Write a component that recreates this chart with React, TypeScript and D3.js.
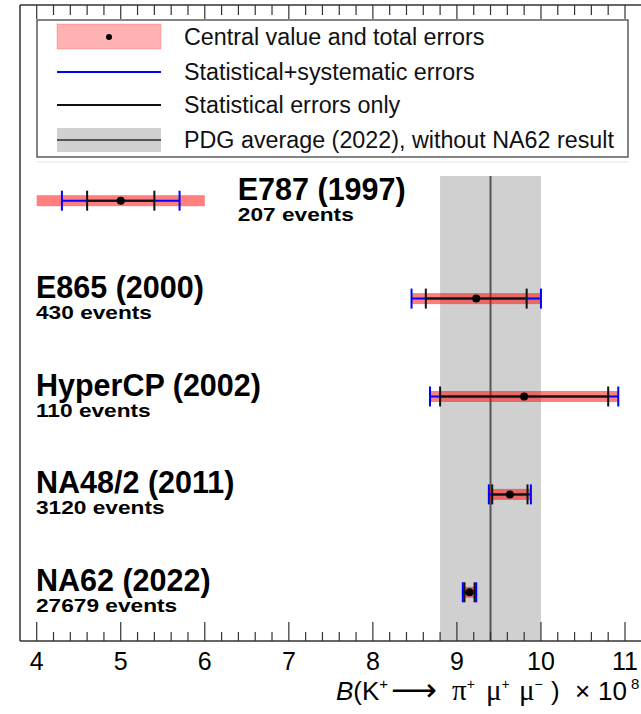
import React from "react";
import * as d3 from "d3";

// 測定値 (x 10^-8)
const experiments = ["E787 (1997)", "E865 (2000)", "HyperCP (2002)", "NA48/2 (2011)", "NA62 (2022)"];
const eventCounts = ["207 events", "430 events", "110 events", "3120 events", "27679 events"];
const centralValues = [5.0, 9.23, 9.8, 9.63, 9.15];
const statErrors = [0.4, 0.6, 1.0, 0.21, 0.06];
const statSystErrors = [0.7, 0.77, 1.12, 0.25, 0.08];
const totalErrors = [1.0, 0.77, 1.12, 0.25, 0.08];
const pdgAverage = 9.4;
const pdgError = 0.6;
const xTicks = [4, 5, 6, 7, 8, 9, 10, 11];
const legendLabels = [
  "Central value and total errors",
  "Statistical+systematic errors",
  "Statistical errors only",
  "PDG average (2022), without NA62 result",
];

const W = 641;
const H = 714;
const frameLeft = 20;
const frameTop = 5;
const axisY = 641;
const font = "'Liberation Sans', Arial, sans-serif";
const serif = "'Liberation Serif', serif";

const App = () => {
  const x = d3.scaleLinear().domain([4, 11]).range([36.7, 625]);
  const y = d3.scalePoint().domain(experiments).range([200.7, 592.3]);

  // 小目盛り 0.2刻み（フレーム内のみ）
  const minorTicks = d3.range(38, 113, 2).map((v) => v / 10).filter((v) => x(v) >= frameLeft && x(v) <= W);
  const isMajor = (v: number) => Math.abs(v - Math.round(v)) < 1e-6;

  const capH = 20;
  const legendRowY = [37, 72, 105, 140];

  return (
    <svg width={W} height={H} style={{ position: "absolute", left: 0, top: 0, background: "#fff" }}>
      {/* PDG平均のバンド */}
      <rect
        x={x(pdgAverage - pdgError)}
        y={176}
        width={x(pdgAverage + pdgError) - x(pdgAverage - pdgError)}
        height={axisY - 176}
        fill="#d0d0d0"
      />
      <line x1={x(pdgAverage)} x2={x(pdgAverage)} y1={176} y2={axisY} stroke="#555" strokeWidth={2} />

      {/* 各実験の測定値 */}
      {experiments.map((name, i) => {
        const cy = y(name) as number;
        const c = centralValues[i];
        const lo = c - totalErrors[i];
        const hi = c + totalErrors[i];
        const ssLo = x(c - statSystErrors[i]);
        const ssHi = x(c + statSystErrors[i]);
        const stLo = x(c - statErrors[i]);
        const stHi = x(c + statErrors[i]);
        // 左端にかかるバーはラベルを右側へ
        const labelX = lo < 4.5 ? x(hi) + 33 : x(4) - 0.7;
        return (
          <g key={name}>
            <rect x={x(lo)} y={cy - 5.5} width={x(hi) - x(lo)} height={11} fill="red" fillOpacity={0.5} />
            <line x1={ssLo} x2={ssHi} y1={cy} y2={cy} stroke="blue" strokeWidth={2} />
            <line x1={ssLo} x2={ssLo} y1={cy - capH / 2} y2={cy + capH / 2} stroke="blue" strokeWidth={2} />
            <line x1={ssHi} x2={ssHi} y1={cy - capH / 2} y2={cy + capH / 2} stroke="blue" strokeWidth={2} />
            <line x1={stLo} x2={stHi} y1={cy} y2={cy} stroke="#111" strokeWidth={2} />
            <line x1={stLo} x2={stLo} y1={cy - capH / 2} y2={cy + capH / 2} stroke="#111" strokeWidth={2} />
            <line x1={stHi} x2={stHi} y1={cy - capH / 2} y2={cy + capH / 2} stroke="#111" strokeWidth={2} />
            <circle cx={x(c)} cy={cy} r={4} fill="#000" />
            <text x={labelX} y={cy - 1} fontFamily={font} fontWeight="bold" fontSize={30.5} fill="#000">
              {name}
            </text>
            {/* 件数は横長の書体 */}
            <text
              transform={`translate(${labelX},${cy + 20}) scale(1.26,1)`}
              fontFamily={font}
              fontWeight="bold"
              fontSize={18}
              fill="#000"
            >
              {eventCounts[i]}
            </text>
          </g>
        );
      })}

      {/* フレーム */}
      <line x1={frameLeft} x2={W} y1={frameTop} y2={frameTop} stroke="#333" strokeWidth={1.5} />
      <line x1={frameLeft} x2={frameLeft} y1={frameTop} y2={axisY} stroke="#333" strokeWidth={1.5} />
      <line x1={frameLeft} x2={W} y1={axisY} y2={axisY} stroke="#333" strokeWidth={1.5} />

      {/* 目盛り（上下） */}
      {minorTicks.map((v) => (
        <g key={v}>
          <line x1={x(v)} x2={x(v)} y1={axisY} y2={axisY - (isMajor(v) ? 19 : 9)} stroke="#333" strokeWidth={1.2} />
          <line x1={x(v)} x2={x(v)} y1={frameTop} y2={frameTop + (isMajor(v) ? 14 : 10)} stroke="#333" strokeWidth={1.2} />
        </g>
      ))}
      {xTicks.map((t) => (
        <text key={t} x={x(t)} y={670} textAnchor="middle" fontFamily={font} fontSize={25} fill="#000">
          {t}
        </text>
      ))}

      {/* x軸タイトル */}
      <text y={700} fontFamily={font} fontSize={26} fill="#000">
        <tspan x={336} fontStyle="italic">B</tspan>
        <tspan>(K</tspan>
        <tspan fontSize={15} dy={-11}>+</tspan>
        <tspan x={391} dy={12} fontFamily="'DejaVu Sans', sans-serif" fontSize={32}>⟶</tspan>
        <tspan x={452} dy={-1} fontFamily={serif} fontSize={29}>π</tspan>
        <tspan fontSize={14} dy={-11}>+</tspan>
        <tspan x={486} dy={11} fontFamily={serif} fontSize={29}>μ</tspan>
        <tspan fontSize={14} dy={-11}>+</tspan>
        <tspan x={519} dy={11} fontFamily={serif} fontSize={29}>μ</tspan>
        <tspan fontSize={14} dy={-11}>−</tspan>
        <tspan x={551} dy={11}>)</tspan>
        <tspan x={575}>×</tspan>
        <tspan x={598}>10</tspan>
        <tspan x={631} fontSize={15} dy={-11}>8</tspan>
      </text>

      {/* 凡例 */}
      <rect x={37} y={161} width={591} height={1.5} fill="#eee" />
      <rect x={37} y={20} width={591} height={137} fill="#fff" stroke="#333" strokeWidth={1.2} />
      <rect x={57} y={24} width={104} height={25} fill="red" fillOpacity={0.3} stroke="red" strokeOpacity={0.2} />
      <circle cx={109} cy={37} r={3} fill="#000" />
      <line x1={57} x2={161} y1={legendRowY[1]} y2={legendRowY[1]} stroke="blue" strokeWidth={2} />
      <line x1={57} x2={161} y1={legendRowY[2]} y2={legendRowY[2]} stroke="#111" strokeWidth={2} />
      <rect x={57} y={128} width={104} height={24} fill="#d0d0d0" />
      <line x1={57} x2={161} y1={legendRowY[3]} y2={legendRowY[3]} stroke="#555" strokeWidth={2} />
      {legendLabels.map((label, i) => (
        <text key={label} x={184} y={legendRowY[i] + 8} fontFamily={font} fontSize={23.3} fill="#111">
          {label}
        </text>
      ))}
    </svg>
  );
};

export default App;
